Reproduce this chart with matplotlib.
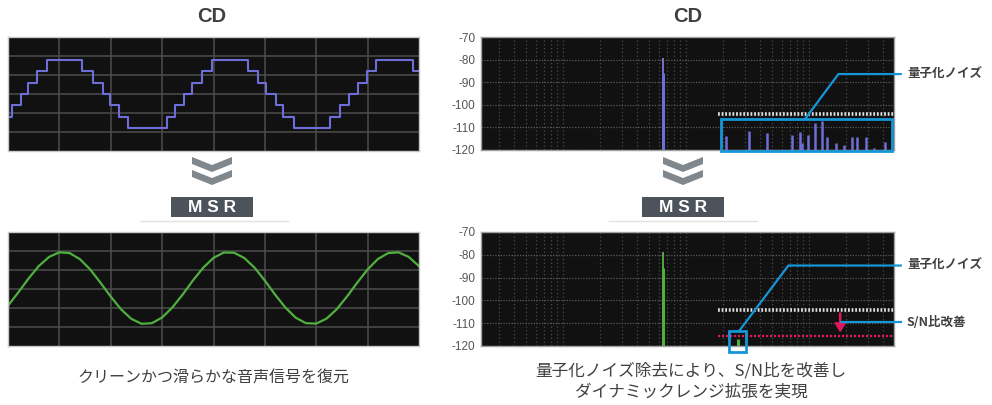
import numpy as np
import matplotlib.pyplot as plt
from matplotlib.patches import Rectangle, Polygon
from matplotlib.ticker import LogLocator, NullFormatter

W, H = 992, 405

# ---- データ ----
# 左上: CD の量子化された波形 (ステップの切り替わり位置と各段のレベル)
step_edges = [0.07, 0.25, 0.39, 0.56, 0.75, 1.45, 1.66, 1.84, 1.99, 2.17, 2.34,
              3.09, 3.26, 3.43, 3.59, 3.77, 3.97, 4.67, 4.87, 5.03, 5.21, 5.36, 5.56,
              6.26, 6.46, 6.63, 6.81, 6.98, 7.16, 7.89]
step_levels = [-1.2, -0.6, 0.0, 0.6, 1.2, 1.8, 1.2, 0.6, 0.0, -0.6, -1.2, -1.8,
               -1.2, -0.6, 0.0, 0.6, 1.2, 1.8, 1.2, 0.6, 0.0, -0.6, -1.2, -1.8,
               -1.2, -0.6, 0.0, 0.6, 1.2, 1.8, 1.2]

# 左下: MSR 後のなめらかな波形
wave_x = np.linspace(0, 8, 41)
wave_y = [-0.88, -0.18, 0.55, 1.21, 1.69, 1.93, 1.89, 1.57, 1.03, 0.33, -0.40,
          -1.07, -1.57, -1.83, -1.80, -1.50, -0.97, -0.29, 0.45, 1.12, 1.64,
          1.92, 1.91, 1.63, 1.12, 0.44, -0.30, -0.98, -1.51, -1.80, -1.82,
          -1.56, -1.06, -0.39, 0.34, 1.03, 1.58, 1.89, 1.93, 1.69, 1.20]

# 右: スペクトル (Hz, dB)
spec_yticks = [-70, -80, -90, -100, -110, -120]
peak_hz = 650
cd_peak_db = -79.5
msr_peak_db = -78.6
peak_body_db = -86
cd_noise_hz = [2110, 3250, 4580, 7230, 8450, 8730, 9870, 11190, 12680, 13930,
               16590, 19270, 22230, 24420, 28890, 33760, 41500]
cd_noise_db = [-113.7, -111.6, -112.6, -113.4, -112.2, -117.0, -113.4, -108.2,
               -107.0, -114.1, -117.0, -117.8, -114.1, -114.1, -114.1, -119.0, -116.6]
msr_noise_hz = [2660]
msr_noise_db = [-117.0]
floor_start_hz = 1810
cd_floor_db = -104.2
msr_floor_db = -115.7

VIOLET = '#6e6ed9'
GREEN = '#4fb03e'
BLUE = '#1596d6'
PINK = '#e0175e'
TXT = '#404040'

plt.rcParams['font.family'] = ['Noto Sans CJK JP', 'DejaVu Sans']
plt.rcParams['axes.unicode_minus'] = False

fig = plt.figure(figsize=(W / 100, H / 100), dpi=100)


def box(x0, y0, x1, y1):
    # ピクセル座標 -> figure 座標
    return [x0 / W, 1 - y1 / H, (x1 - x0) / W, (y1 - y0) / H]


def style_wave(ax):
    ax.set_facecolor('#111111')
    ax.set_xlim(0, 8)
    ax.set_ylim(-3, 3)
    ax.set_xticks(range(1, 8))
    ax.set_yticks(range(-2, 3))
    ax.set_axisbelow(True)
    ax.grid(True, color='#4c4c4c', lw=1.1)
    ax.tick_params(length=0, labelbottom=False, labelleft=False)
    for s in ax.spines.values():
        s.set_color('#c8c8c8')
        s.set_linewidth(1)


def style_spec(ax):
    ax.set_facecolor('#111111')
    ax.set_xscale('log')
    ax.set_xlim(21.5, 49000)
    ax.set_ylim(-120, -70)
    ax.xaxis.set_major_locator(LogLocator(base=10, numticks=20))
    ax.xaxis.set_minor_locator(LogLocator(base=10, subs=np.arange(2, 10), numticks=50))
    ax.xaxis.set_major_formatter(NullFormatter())
    ax.xaxis.set_minor_formatter(NullFormatter())
    ax.set_yticks(spec_yticks)
    ax.set_yticklabels([str(v) for v in spec_yticks], fontfamily='Liberation Sans',
                       fontsize=8.5, color='#555555')
    ax.set_axisbelow(True)
    ax.grid(True, which='both', axis='x', color='#4a4a4a', ls=(0, (1, 2)), lw=0.9)
    ax.grid(True, which='major', axis='y', color='#5a5a5a', ls=(0, (1, 1.2)), lw=0.9)
    ax.tick_params(which='both', length=0, pad=4)
    for s in ax.spines.values():
        s.set_color('#a0a0a0')
        s.set_linewidth(1)


# 左上: CD 波形
ax1 = fig.add_axes(box(8, 37, 419, 151))
style_wave(ax1)
ax1.step([0] + step_edges + [8], step_levels + [step_levels[-1]], where='post',
         color=VIOLET, lw=1.5)

# 左下: MSR 波形
ax2 = fig.add_axes(box(8, 232, 419, 346))
style_wave(ax2)
ax2.plot(wave_x, wave_y, color=GREEN, lw=1.6)

# 右上: CD スペクトル
ax3 = fig.add_axes(box(481, 37, 894, 150))
style_spec(ax3)
xmax = ax3.get_xlim()[1]
ax3.vlines(peak_hz, -120, cd_peak_db, color='#8484e0', lw=1.2)
ax3.vlines(peak_hz, -120, peak_body_db, color=VIOLET, lw=2.2)
ax3.vlines(cd_noise_hz, -120, cd_noise_db, color=VIOLET, lw=1.8)
ax3.hlines(cd_floor_db, floor_start_hz, xmax, color='#e0e0e0', lw=2.6,
           linestyles=[(0, (0.5, 0.5))])
ax3.add_patch(Rectangle((1930, -120.4), 47400 - 1930, 14.1, fill=False,
                        edgecolor=BLUE, lw=2, clip_on=False, zorder=5))
ax3.plot([9270, 17300, 55600], [-106.3, -86.4, -86.4], color=BLUE, lw=1.6,
         clip_on=False, zorder=5)
ax3.text(62500, -86.4, '量子化ノイズ', ha='left', va='center', fontsize=9,
         fontweight='bold', color=TXT, clip_on=False)

# 右下: MSR スペクトル
ax4 = fig.add_axes(box(481, 232, 894, 346))
style_spec(ax4)
ax4.vlines(peak_hz, -120, msr_peak_db, color='#5cc24a', lw=1.2)
ax4.vlines(peak_hz, -120, peak_body_db, color=GREEN, lw=2.2)
ax4.vlines(msr_noise_hz, -120, msr_noise_db, color=GREEN, lw=2.2)
ax4.hlines(cd_floor_db, floor_start_hz, xmax, color='#e0e0e0', lw=2.6,
           linestyles=[(0, (0.5, 0.5))])
ax4.hlines(msr_floor_db, floor_start_hz, xmax, color=PINK, lw=1.6,
           linestyles=[(0, (1, 0.8))])
ax4.annotate('', xy=(17900, msr_floor_db + 0.3), xytext=(17900, cd_floor_db - 0.3),
             arrowprops=dict(arrowstyle='-|>,head_length=0.5,head_width=0.3',
                             color=PINK, lw=1.8))
ax4.add_patch(Rectangle((2249, -122.6), 3076 - 2249, 9.2, fill=False,
                        edgecolor=BLUE, lw=2, clip_on=False, zorder=5))
ax4.plot([2700, 6790, 55600], [-113.4, -84.7, -84.7], color=BLUE, lw=1.6,
         clip_on=False, zorder=5)
ax4.plot([18100, 55600], [-109.6, -109.6], color=BLUE, lw=1.6, clip_on=False, zorder=5)
ax4.text(62500, -84.7, '量子化ノイズ', ha='left', va='center', fontsize=9,
         fontweight='bold', color=TXT, clip_on=False)
ax4.text(62500, -109.6, 'S/N比改善', ha='left', va='center', fontsize=9,
         fontweight='bold', color=TXT, clip_on=False)

# 装飾 (タイトル, 矢印, MSR ラベル, 説明文) はピクセル座標のオーバーレイに描く
ov = fig.add_axes([0, 0, 1, 1])
ov.set_xlim(0, W)
ov.set_ylim(H, 0)
ov.axis('off')


def chevron(cx, top, w=40, dip=8, t=7):
    pts = [(cx - w / 2, top), (cx, top + dip), (cx + w / 2, top),
           (cx + w / 2, top + t), (cx, top + dip + t), (cx - w / 2, top + t)]
    ov.add_patch(Polygon(pts, closed=True, facecolor='#80888e', edgecolor='none'))


for cx in (212, 683):
    chevron(cx, 157)
    chevron(cx, 170)

for cx, x0, x1 in ((212, 140, 288), (683, 609, 757)):
    ov.add_patch(Rectangle((cx - 41, 197), 82, 20, facecolor='#4c535a', edgecolor='none'))
    ov.text(cx, 207.5, 'M S R', ha='center', va='center', color='white',
            fontsize=12.5, fontweight='bold', fontfamily='Liberation Sans')
    ov.plot([x0, x1], [221, 221], color='#e2e2e2', lw=1)

ov.text(212, 17, 'CD', ha='center', va='center', fontsize=14.5, fontweight='bold',
        color=TXT, fontfamily='Liberation Sans')
ov.text(688, 17, 'CD', ha='center', va='center', fontsize=14.5, fontweight='bold',
        color=TXT, fontfamily='Liberation Sans')

ov.text(213, 378, 'クリーンかつ滑らかな音声信号を復元', ha='center', va='center',
        fontsize=11.5, color=TXT)
ov.text(691, 371, '量子化ノイズ除去により、S/N比を改善し', ha='center', va='center',
        fontsize=12, color=TXT)
ov.text(691, 392, 'ダイナミックレンジ拡張を実現', ha='center', va='center',
        fontsize=12, color=TXT)

fig.savefig('out.png', dpi=100, facecolor='white')
